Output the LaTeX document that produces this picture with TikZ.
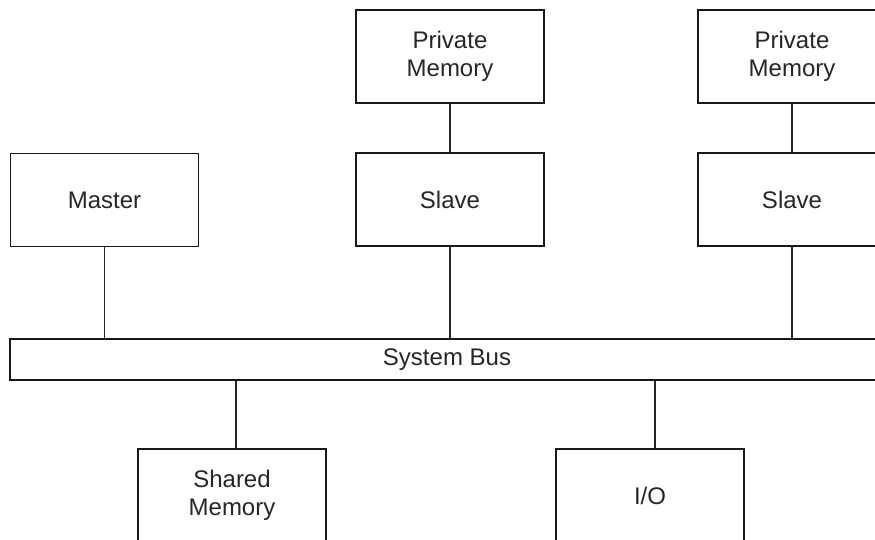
\documentclass[tikz,border=0pt]{standalone}
\usepackage{fontspec}
\setmainfont{Liberation Sans}
\usetikzlibrary{calc}
\begin{document}
\begin{tikzpicture}[x=1pt,y=-1pt,
  unit/.style={draw=black!90, line width=1.5pt, fill=white, minimum width=188pt,
    minimum height=93pt, inner sep=0pt, align=center,
    font=\fontsize{24}{28}\selectfont, text=black!85},
  bus/.style={unit, minimum width=874pt, minimum height=41pt},
  link/.style={draw=black!85, line width=1.5pt}]
  \useasboundingbox (0,0) rectangle (875,539);
  \clip (0,0) rectangle (875,539);
  % processors and their local memories
  \node[unit] (pm1) at (450,56.5) {Private\\Memory};
  \node[unit] (pm2) at (792,56.5) {Private\\Memory};
  \node[unit] (master) at (104.5,200) {Master};
  \node[unit] (slave1) at (450,199.5) {Slave};
  \node[unit] (slave2) at (792,199.5) {Slave};
  % the shared bus
  \node[bus] (sysbus) at (447,359.5) {System Bus};
  % devices below the bus
  \node[unit] (shared) at (232,495.5) {Shared\\Memory};
  \node[unit] (io) at (650,495.5) {I/O};
  % connections
  \draw[link] (pm1) -- (slave1);
  \draw[link] (pm2) -- (slave2);
  \draw[link] (master.south) -- (master.south |- sysbus.north);
  \draw[link] (slave1.south) -- (slave1.south |- sysbus.north);
  \draw[link] (slave2.south) -- (slave2.south |- sysbus.north);
  \draw[link] ([xshift=4pt]shared.north) -- ([xshift=4pt]shared.north |- sysbus.south);
  \draw[link] ([xshift=5pt]io.north) -- ([xshift=5pt]io.north |- sysbus.south);
\end{tikzpicture}
\end{document}
